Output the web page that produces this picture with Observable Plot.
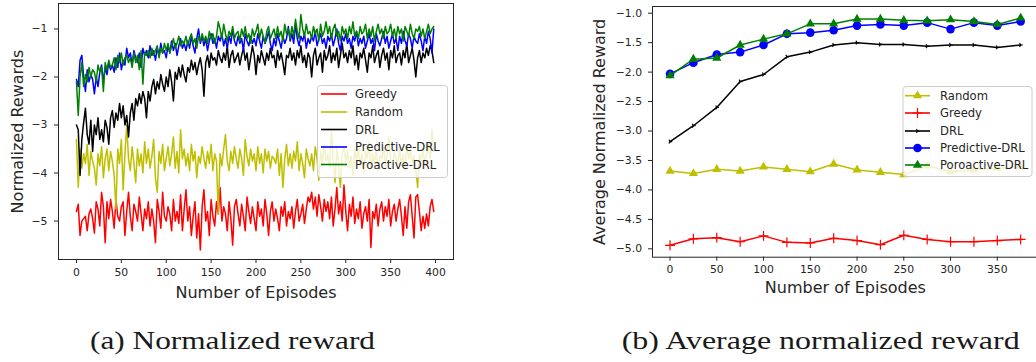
<!DOCTYPE html>
<html><head><meta charset="utf-8">
<script src="https://cdn.jsdelivr.net/npm/d3@7"></script>
<script src="https://cdn.jsdelivr.net/npm/@observablehq/plot@0.6"></script>
<style>
html,body{margin:0;padding:0;background:#fff;}
#wrap{position:relative;width:1036px;height:362px;overflow:hidden;background:#fff;}
.panel{position:absolute;top:0;}
#overlay{position:absolute;left:0;top:0;pointer-events:none;}
</style></head>
<body><div id="wrap"><div id="pa" class="panel" style="left:0;width:460px"></div><div id="pb" class="panel" style="left:560px;width:480px"></div></div>
<script>
// ---------- Panel (a): per-episode normalized rewards (sampled every 2 episodes) ----------
const episodesA = d3.range(0, 400, 2);
const greedyA = [
-4.8,-4.65,-5.3,-5.0,-4.95,-4.9,-5.2,-4.85,-4.75,-4.95,
-5.25,-4.6,-4.75,-5.1,-4.4,-4.7,-5.45,-4.6,-4.95,-4.55,
-4.8,-5.15,-4.55,-4.9,-5.0,-4.7,-4.6,-5.3,-4.8,-4.4,
-4.9,-5.2,-4.65,-4.8,-5.0,-4.5,-4.85,-5.2,-4.75,-4.95,
-4.6,-5.1,-4.75,-5.0,-5.45,-4.55,-4.8,-5.15,-4.4,-4.9,
-5.0,-4.7,-4.85,-5.2,-4.55,-5.0,-4.8,-5.05,-4.45,-5.2,
-4.75,-4.35,-5.0,-4.7,-5.3,-4.9,-4.6,-5.35,-4.85,-5.6,
-4.7,-4.35,-5.0,-4.8,-5.3,-4.55,-4.9,-5.1,-4.6,-4.85,
-4.3,-5.0,-4.7,-4.85,-5.2,-4.6,-4.95,-5.5,-4.7,-4.55,
-4.85,-5.1,-4.65,-4.9,-5.2,-4.5,-4.8,-5.05,-4.7,-4.95,
-5.2,-4.6,-4.9,-4.75,-5.1,-4.55,-4.85,-5.3,-4.8,-4.6,
-5.0,-4.75,-4.95,-5.2,-4.7,-4.9,-4.6,-5.1,-4.8,-4.95,
-4.7,-5.15,-4.8,-4.55,-5.0,-4.85,-4.65,-5.05,-4.75,-4.5,
-4.6,-4.4,-4.75,-4.5,-4.9,-4.45,-4.7,-5.0,-4.55,-4.8,
-4.6,-4.95,-4.5,-5.1,-4.75,-4.3,-4.85,-4.6,-5.0,-4.25,
-4.8,-5.2,-4.65,-4.9,-4.5,-5.05,-4.75,-4.95,-4.6,-5.15,
-4.85,-4.7,-5.0,-4.55,-5.55,-4.8,-4.95,-4.65,-5.1,-4.75,
-4.6,-5.0,-4.7,-4.9,-4.55,-5.1,-4.8,-4.65,-5.0,-4.75,
-4.55,-4.9,-5.3,-4.7,-5.15,-4.6,-4.45,-4.9,-5.35,-4.5,
-4.45,-4.8,-5.2,-4.9,-5.15,-4.85,-5.1,-4.7,-4.55,-4.8];
const randomA = [
-3.3,-4.3,-3.5,-3.9,-3.6,-3.8,-3.4,-4.05,-3.55,-3.75,
-3.9,-4.25,-3.6,-3.85,-3.45,-4.1,-3.7,-3.5,-3.95,-3.55,
-3.75,-4.05,-4.75,-3.5,-3.8,-3.3,-4.35,-3.6,-3.0,-3.7,
-3.95,-3.45,-3.8,-4.2,-3.5,-3.85,-3.6,-4.0,-3.35,-3.8,
-3.5,-3.9,-3.65,-3.3,-4.1,-4.4,-3.55,-3.8,-3.4,-3.95,
-3.7,-3.45,-3.85,-3.6,-3.25,-3.9,-3.55,-4.0,-3.1,-3.7,
-3.5,-3.85,-3.6,-3.95,-3.4,-3.75,-3.55,-4.1,-3.65,-3.8,
-3.45,-3.7,-3.9,-3.55,-3.8,-3.4,-3.95,-3.6,-3.75,-4.85,
-3.6,-3.85,-3.5,-3.2,-3.75,-3.95,-3.55,-3.8,-3.45,-3.7,
-3.9,-3.5,-3.7,-4.05,-3.3,-3.65,-3.85,-3.5,-3.75,-3.6,
-3.95,-3.45,-3.8,-3.6,-4.0,-3.5,-3.75,-3.55,-3.9,-3.65,
-3.7,-3.8,-3.5,-4.05,-3.6,-4.3,-3.7,-3.4,-3.85,-3.6,
-3.9,-3.55,-3.75,-3.35,-3.95,-3.6,-3.8,-4.1,-3.5,-3.7,
-3.85,-3.6,-3.95,-3.45,-3.7,-4.15,-3.55,-3.8,-3.4,-3.75,
-3.6,-3.9,-3.1,-3.7,-4.2,-3.5,-3.85,-4.3,-3.6,-3.45,
-3.8,-3.55,-3.9,-3.65,-4.05,-3.5,-3.75,-3.45,-3.85,-3.6,
-4.0,-3.55,-3.7,-3.35,-3.9,-3.6,-3.8,-3.5,-3.95,-3.65,
-3.7,-3.45,-3.85,-3.6,-3.25,-3.75,-3.9,-3.55,-3.7,-3.8,
-3.5,-3.85,-3.6,-3.95,-3.4,-3.7,-3.55,-3.8,-3.65,-3.9,
-4.3,-3.6,-3.75,-3.5,-3.85,-3.6,-3.4,-3.7,-3.1,-3.55];
const drlA = [
-3.0,-3.1,-4.05,-3.3,-2.95,-2.65,-3.2,-3.4,-2.9,-3.55,
-3.0,-3.2,-2.85,-3.3,-3.1,-3.35,-2.9,-3.05,-3.4,-2.85,
-2.7,-3.05,-2.75,-2.9,-2.55,-2.85,-2.6,-3.0,-2.8,-3.25,
-2.75,-2.55,-2.9,-2.45,-2.6,-2.35,-2.55,-2.3,-2.45,-2.85,
-2.3,-2.5,-2.2,-2.05,-2.35,-2.1,-2.25,-1.95,-2.15,-2.3,
-2.0,-2.2,-1.85,-2.1,-2.5,-1.9,-2.05,-1.8,-2.0,-1.75,
-1.95,-2.1,-1.8,-1.9,-1.65,-1.85,-1.7,-1.95,-1.75,-1.6,
-1.85,-2.4,-1.7,-1.55,-1.8,-1.5,-1.65,-1.6,-1.75,-1.45,
-1.6,-1.7,-1.5,-1.65,-1.35,-1.8,-1.55,-1.45,-1.7,-1.6,
-1.5,-1.75,-1.55,-1.4,-1.65,-1.5,-1.85,-1.6,-1.35,-1.55,
-1.95,-1.55,-1.7,-1.45,-1.6,-1.75,-1.5,-1.65,-1.4,-1.6,
-1.55,-1.8,-1.45,-1.65,-1.5,-1.7,-1.95,-1.55,-1.6,-1.4,
-1.65,-1.5,-1.75,-1.45,-1.6,-1.35,-1.7,-1.55,-1.8,-1.5,
-1.6,-2.0,-1.55,-1.4,-1.75,-1.6,-1.5,-1.9,-1.45,-1.65,
-1.55,-1.35,-1.7,-1.5,-1.65,-1.4,-1.8,-1.55,-1.3,-1.6,
-1.5,-1.7,-1.45,-1.6,-1.35,-1.75,-1.55,-1.85,-1.5,-1.6,
-1.4,-1.65,-1.9,-1.5,-1.6,-1.35,-1.7,-1.55,-1.45,-1.8,
-1.55,-1.4,-1.65,-1.5,-1.85,-1.45,-1.6,-1.35,-1.7,-1.55,
-1.5,-1.75,-1.45,-1.6,-1.3,-1.7,-1.55,-1.4,-1.65,-2.0,
-1.6,-1.45,-1.7,-1.5,-1.6,-1.4,-1.55,-1.35,-1.45,-1.7];
const predictiveA = [
-2.05,-2.2,-1.65,-1.55,-2.0,-2.3,-1.85,-2.1,-1.95,-2.05,
-2.35,-2.0,-2.2,-1.9,-1.75,-2.1,-1.8,-1.95,-1.7,-1.85,
-1.75,-1.9,-1.6,-1.8,-1.5,-1.85,-1.65,-1.75,-1.4,-1.6,
-1.5,-1.75,-1.45,-1.6,-1.7,-1.5,-1.8,-1.4,-1.55,-1.45,
-1.6,-1.35,-1.55,-1.45,-1.65,-1.4,-1.55,-1.3,-1.5,-1.45,
-1.6,-1.35,-1.5,-1.25,-1.45,-1.3,-1.55,-1.35,-1.2,-1.4,
-1.3,-1.45,-1.25,-1.4,-1.15,-1.35,-1.5,-1.2,-1.0,-1.3,
-1.15,-1.35,-1.2,-1.45,-1.25,-1.1,-1.3,-1.2,-1.4,-1.15,
-1.25,-1.1,-1.35,-1.2,-1.4,-1.15,-1.3,-1.0,-1.25,-1.35,
-1.15,-1.3,-1.2,-1.45,-1.1,-1.25,-1.35,-1.15,-1.3,-1.2,
-1.35,-1.1,-1.25,-1.4,-1.15,-1.3,-1.2,-1.05,-1.3,-1.45,
-1.2,-1.35,-1.1,-1.25,-1.4,-1.15,-1.3,-1.2,-0.95,-1.25,
-1.1,-1.3,-0.9,-1.2,-1.35,-1.15,-1.25,-1.1,-1.4,-1.2,
-1.3,-1.15,-1.25,-1.05,-1.35,-1.2,-1.1,-1.3,-1.2,-1.4,
-1.15,-1.25,-1.1,-1.35,-1.2,-1.0,-1.3,-1.45,-1.15,-1.25,
-1.1,-1.3,-1.2,-1.4,-1.15,-1.25,-1.05,-1.35,-1.2,-1.3,
-1.15,-1.4,-1.25,-1.1,-1.3,-1.2,-1.45,-1.1,-1.25,-1.35,
-1.2,-1.05,-1.3,-1.15,-1.4,-1.25,-1.1,-1.3,-1.2,-1.45,
-1.15,-1.3,-1.05,-1.25,-1.35,-1.1,-1.2,-1.4,-1.15,-1.25,
-1.3,-1.1,-1.25,-1.45,-1.15,-1.3,-1.05,-1.2,-1.5,-1.0];
const proactiveA = [
-2.1,-2.8,-2.0,-1.7,-2.2,-1.95,-2.1,-1.8,-2.0,-1.85,
-1.9,-2.1,-1.75,-1.9,-1.8,-2.3,-1.7,-1.85,-1.65,-1.8,
-1.75,-1.6,-1.85,-1.55,-1.7,-1.5,-1.75,-1.6,-1.55,-1.7,
-1.6,-1.8,-1.5,-1.7,-1.55,-1.85,-1.45,-2.15,-1.5,-1.55,
-1.45,-1.6,-1.4,-1.55,-1.45,-1.35,-1.6,-1.4,-1.5,-1.3,
-1.45,-1.3,-1.5,-1.35,-1.2,-1.4,-1.3,-1.15,-1.35,-1.25,
-1.3,-1.15,-1.35,-1.2,-1.1,-1.3,-1.2,-1.4,-1.15,-1.25,
-1.1,-1.25,-1.15,-1.3,-1.05,-1.2,-1.1,-1.3,-1.15,-0.85,
-1.0,-1.2,-0.9,-1.1,-1.25,-1.05,-1.15,-0.95,-1.2,-1.1,
-1.05,-1.25,-1.0,-1.15,-0.95,-1.2,-1.1,-1.3,-1.0,-1.15,
-1.05,-0.9,-1.2,-1.0,-1.15,-1.3,-1.05,-0.95,-1.2,-1.1,
-1.0,-1.2,-0.95,-1.15,-1.05,-1.25,-0.9,-1.1,-1.0,-1.2,
-0.95,-1.15,-0.8,-1.05,-1.2,-0.7,-1.0,-1.15,-0.9,-1.1,
-1.05,-1.2,-0.95,-1.1,-1.0,-1.25,-0.9,-1.15,-1.05,-0.85,
-1.1,-0.95,-1.2,-1.0,-0.9,-1.15,-1.05,-1.25,-0.95,-1.1,
-1.0,-1.2,-0.95,-1.1,-0.85,-1.15,-1.05,-1.2,-0.95,-1.1,
-1.05,-0.9,-1.2,-1.0,-1.15,-0.95,-1.25,-1.05,-0.9,-1.1,
-1.0,-1.2,-0.95,-1.1,-1.05,-0.9,-1.15,-1.0,-1.2,-0.95,
-1.1,-1.0,-1.25,-0.95,-1.05,-1.15,-0.9,-1.1,-1.2,-1.0,
-1.05,-0.95,-1.15,-1.0,-1.2,-1.05,-0.9,-1.1,-1.0,-0.95];
const namesA = ["Greedy", "Random", "DRL", "Predictive-DRL", "Proactive-DRL"];
const colorsA = ["#ff0000", "#bfbf00", "#000000", "#0000ff", "#008000"];
const xTicksA = [0, 50, 100, 150, 200, 250, 300, 350, 400];
const yTicksA = [-1, -2, -3, -4, -5];

// ---------- Panel (b): average normalized reward ----------
const episodesB = [0, 25, 50, 75, 100, 125, 150, 175, 200, 225, 250, 275, 300, 325, 350, 375];
const randomB = [-3.68,-3.72,-3.65,-3.68,-3.61,-3.65,-3.69,-3.56,-3.66,-3.70,-3.74,-3.59,-3.69,-3.66,-3.63,-3.61];
const greedyB = [-4.94,-4.83,-4.81,-4.88,-4.78,-4.89,-4.90,-4.82,-4.86,-4.93,-4.77,-4.84,-4.88,-4.88,-4.86,-4.84];
const drlB = [-3.18,-2.91,-2.60,-2.16,-2.04,-1.74,-1.66,-1.54,-1.50,-1.53,-1.53,-1.56,-1.54,-1.54,-1.58,-1.54];
const predictiveB = [-2.03,-1.84,-1.70,-1.66,-1.54,-1.35,-1.33,-1.29,-1.21,-1.19,-1.21,-1.16,-1.27,-1.16,-1.21,-1.14];
const proactiveB = [-2.06,-1.78,-1.76,-1.54,-1.44,-1.35,-1.18,-1.18,-1.10,-1.10,-1.12,-1.13,-1.11,-1.14,-1.19,-1.08];
const namesB = ["Random", "Greedy", "DRL", "Predictive-DRL", "Poroactive-DRL"];
const colorsB = ["#bfbf00", "#ff0000", "#000000", "#0000ff", "#008000"];
const xTicksB = [0, 50, 100, 150, 200, 250, 300, 350];
const yTicksB = [-1.0, -1.5, -2.0, -2.5, -3.0, -3.5, -4.0, -4.5, -5.0];

const captions = ["(a) Normalized reward", "(b) Average normalized reward"];

// ---------- helpers ----------
const minus = (s) => s.replace("-", "\u2212");
const fmtInt = (d) => minus(String(d));
const fmt1 = (d) => minus(d.toFixed(1));
const triRight = {draw(ctx, size) {
  const r = Math.sqrt(size / Math.PI);
  ctx.moveTo(0, 0); ctx.lineTo(r, 0);
  ctx.moveTo(0, 0); ctx.lineTo(-r * 0.5, -r * 0.866);
  ctx.moveTo(0, 0); ctx.lineTo(-r * 0.5, r * 0.866);
}};
const markerB = [
  {symbol: "triangle", fill: colorsB[0], stroke: "none", r: 3.4},
  {symbol: "plus", fill: "none", stroke: colorsB[1], r: 3.3, strokeWidth: 1.2},
  {symbol: triRight, fill: "none", stroke: colorsB[2], r: 2.2, strokeWidth: 1.2},
  {symbol: "circle", fill: colorsB[3], stroke: "none", r: 4.3},
  {symbol: "triangle", fill: colorsB[4], stroke: "none", r: 3.4}
];
const textColor = "#262626";
const baseStyle = {fontFamily: "DejaVu Sans", fontSize: "10.8px", color: textColor, background: "transparent", overflow: "visible"};
const titleOpts = {fontSize: 16, fill: textColor, textAnchor: "middle", lineAnchor: "middle"};

// ---------- Panel (a) ----------
const valsA = [greedyA, randomA, drlA, predictiveA, proactiveA];
const rowsA = [];
valsA.forEach((vals, k) => vals.forEach((v, i) => rowsA.push({ep: episodesA[i], v, name: namesA[k]})));
const plotA = Plot.plot({
  width: 460, height: 300,
  marginLeft: 58, marginRight: 7, marginTop: 3, marginBottom: 41,
  style: baseStyle,
  x: {domain: [-20, 420], ticks: xTicksA, tickFormat: fmtInt, tickSize: 4, tickPadding: 5, label: null},
  y: {domain: [-5.8, -0.47], ticks: yTicksA, tickFormat: fmtInt, tickSize: 4, tickPadding: 7, label: null},
  marks: [
    ...namesA.map((n, k) => Plot.line(rowsA.filter(r => r.name === n), {x: "ep", y: "v", stroke: colorsA[k], strokeWidth: 1.5})),
    Plot.frame({stroke: textColor, strokeWidth: 1}),
    Plot.text(["Number of Episodes"], {frameAnchor: "bottom", dy: 33, ...titleOpts}),
    Plot.text(["Normalized Rewards"], {frameAnchor: "left", dx: -41, rotate: -90, ...titleOpts})
  ]
});
document.getElementById("pa").appendChild(plotA);

// ---------- Panel (b) ----------
const valsB = [randomB, greedyB, drlB, predictiveB, proactiveB];
const rowsB = [];
valsB.forEach((vals, k) => vals.forEach((v, i) => rowsB.push({ep: episodesB[i], v, name: namesB[k]})));
const plotB = Plot.plot({
  width: 480, height: 300,
  marginLeft: 92, marginRight: 2.3, marginTop: 6, marginBottom: 43.3,
  style: baseStyle,
  x: {domain: [-18.75, 393.75], ticks: xTicksB, tickFormat: fmtInt, tickSize: 4, tickPadding: 4.5, label: null},
  y: {domain: [-5.142, -0.886], ticks: yTicksB, tickFormat: fmt1, tickSize: 4, tickPadding: 6.5, label: null},
  marks: [
    ...namesB.flatMap((n, k) => {
      const d = rowsB.filter(r => r.name === n);
      return [
        Plot.line(d, {x: "ep", y: "v", stroke: colorsB[k], strokeWidth: 1.5}),
        Plot.dot(d, {x: "ep", y: "v", ...markerB[k]})
      ];
    }),
    Plot.frame({stroke: textColor, strokeWidth: 1}),
    Plot.text(["Number of Episodes"], {frameAnchor: "bottom", dy: 30.3, ...titleOpts}),
    Plot.text(["Average Normalized Reward"], {frameAnchor: "left", dx: -52.3, rotate: -90, ...titleOpts})
  ]
});
document.getElementById("pb").appendChild(plotB);

// ---------- Overlay: legends and captions ----------
const ov = d3.select("#wrap").append("svg").attr("id", "overlay").attr("width", 1036).attr("height", 362);

function legend(x, y, w, h, names, colors, rowY, lineX0, lineX1, textX, markers) {
  const g = ov.append("g").attr("transform", `translate(${x},${y})`);
  g.append("rect").attr("x", 0.5).attr("y", 0.5).attr("width", w).attr("height", h).attr("rx", 3)
    .attr("fill", "rgba(255,255,255,0.8)").attr("stroke", "#cccccc");
  names.forEach((n, i) => {
    const yy = rowY[i];
    g.append("line").attr("x1", lineX0).attr("x2", lineX1).attr("y1", yy).attr("y2", yy)
      .attr("stroke", colors[i]).attr("stroke-width", 1.6);
    if (markers) {
      const m = markers[i];
      const sym = m.symbol === "triangle" ? d3.symbolTriangle : m.symbol === "plus" ? d3.symbolPlus : m.symbol === "circle" ? d3.symbolCircle : m.symbol;
      g.append("path").attr("d", d3.symbol(sym, m.r * m.r * Math.PI)())
        .attr("transform", `translate(${(lineX0 + lineX1) / 2},${yy})`)
        .attr("fill", m.fill).attr("stroke", m.stroke).attr("stroke-width", m.strokeWidth || 1);
    }
    g.append("text").attr("x", textX).attr("y", yy).attr("dy", "0.35em")
      .attr("font-family", "DejaVu Sans").attr("font-size", 11.6).attr("fill", textColor).text(n);
  });
}
legend(317, 85, 130, 92, namesA, colorsA, [9, 27, 44.5, 62, 79.5], 4, 30, 38, null);
legend(902.5, 86, 129, 90, namesB, colorsB, [9.7, 27, 45, 62, 79], 2.5, 27.5, 37.5, markerB);

function caption(text, x, len) {
  ov.append("text").attr("x", x).attr("y", 349).attr("font-family", "Liberation Serif")
    .attr("font-size", 26).attr("fill", "#1a1a1a").attr("textLength", len).attr("lengthAdjust", "spacingAndGlyphs").text(text);
}
caption(captions[0], 90, 285);
caption(captions[1], 621.7, 398);
</script></body></html>
